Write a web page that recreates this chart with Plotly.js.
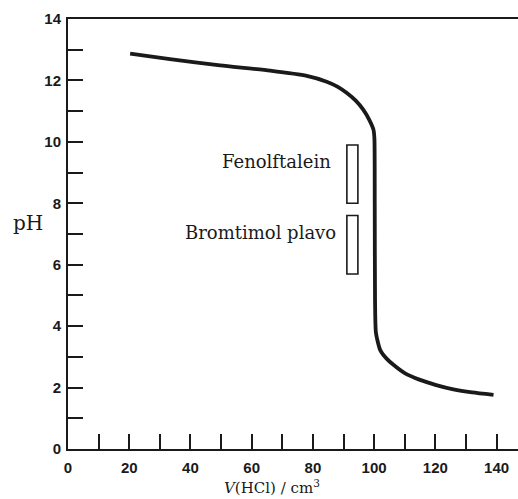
<!DOCTYPE html>
<html>
<head>
<meta charset="utf-8">
<script src="https://cdn.plot.ly/plotly-3.0.1.min.js"></script>
<style>html,body{margin:0;padding:0;background:#fff;}#chart{width:518px;height:499px;}</style>
</head>
<body>
<div id="chart"></div>
<script>
// Titration curve: V(HCl) / cm3 vs pH
var volume = [20.3, 33.3, 49.7, 66.0, 78.0, 84.5, 88.0, 91.1, 94.0, 96.5, 98.5, 99.8, 100.1, 100.2, 100.3, 100.6, 102.0, 104.0, 106.3, 110.0, 115.0, 120.0, 125.9, 132.0, 139.0];
var pH     = [12.87, 12.69, 12.49, 12.32, 12.15, 11.96, 11.80, 11.59, 11.34, 11.04, 10.70, 10.39, 10.10, 8.00, 4.85, 3.78, 3.22, 2.95, 2.74, 2.47, 2.25, 2.09, 1.94, 1.84, 1.76];

var indicatorNames = ["Fenolftalein", "Bromtimol plavo"];
var indicatorLow   = [8.0, 5.7];
var indicatorHigh  = [9.9, 7.6];
var indicatorV0    = [91.1, 91.1];
var indicatorV1    = [94.7, 94.7];

var yTickVals = [0,1,2,3,4,5,6,7,8,9,10,11,12,13,14];
var yTickText = ["0","","2","","4","","6","","8","","10","","12","","14"];
var xTickVals = [0,10,20,30,40,50,60,70,80,90,100,110,120,130,140];
var xTickText = ["0","","20","","40","","60","","80","","100","","120","","140"];

function bold(arr){ return arr.map(function(s){ return s ? '<b>' + s + '</b>' : ' '; }); }

var ink = '#1a1a1a';

var traces = [{
  x: volume, y: pH, type: 'scatter', mode: 'lines',
  line: {color: ink, width: 3.8, shape: 'spline', smoothing: 0.6},
  hoverinfo: 'skip', showlegend: false
}];

var shapes = indicatorNames.map(function(n, i){
  return {type: 'rect', xref: 'x', yref: 'y', x0: indicatorV0[i], x1: indicatorV1[i], y0: indicatorLow[i], y1: indicatorHigh[i],
          line: {color: ink, width: 1.6}, fillcolor: 'rgba(0,0,0,0)'};
});

var labelRight = [86.6, 88.2];
var annotations = indicatorNames.map(function(n, i){
  return {text: n, xref: 'x', yref: 'y', x: labelRight[i], y: indicatorHigh[i] - 0.55,
          xanchor: 'right', yanchor: 'middle', showarrow: false,
          font: {family: 'DejaVu Serif', size: 18, color: ink}};
});
annotations.push({text: 'pH', xref: 'paper', yref: 'paper', x: -0.089, y: 0.526, xanchor: 'center', yanchor: 'middle',
  showarrow: false, font: {family: 'DejaVu Serif', size: 20, color: ink}});
annotations.push({text: '<i>V</i>(HCl) / cm<sup>3</sup>', xref: 'paper', yref: 'paper', x: 0.453, y: -0.088,
  xanchor: 'center', yanchor: 'middle', showarrow: false,
  font: {family: 'DejaVu Serif', size: 15, color: ink}});

var layout = {
  width: 518, height: 499,
  margin: {l: 68, r: 0, t: 19, b: 50},
  paper_bgcolor: '#fff', plot_bgcolor: '#fff',
  showlegend: false,
  xaxis: {
    range: [0, 147], tickvals: xTickVals, ticktext: bold(xTickText),
    ticks: 'inside', ticklen: 15, tickwidth: 2, tickcolor: ink,
    showline: true, linewidth: 2, linecolor: ink, mirror: true,
    showgrid: false, zeroline: false, ticklabelstandoff: 4,
    tickfont: {family: 'Liberation Sans', size: 15, color: ink}
  },
  yaxis: {
    range: [0, 14], tickvals: yTickVals, ticktext: bold(yTickText),
    ticks: 'inside', ticklen: 15, tickwidth: 2, tickcolor: ink,
    showline: true, linewidth: 2, linecolor: ink,
    showgrid: false, zeroline: false, ticklabelstandoff: 2,
    tickfont: {family: 'Liberation Sans', size: 15, color: ink}
  },
  shapes: shapes,
  annotations: annotations
};

Plotly.newPlot('chart', traces, layout, {staticPlot: true});
</script>
</body>
</html>
